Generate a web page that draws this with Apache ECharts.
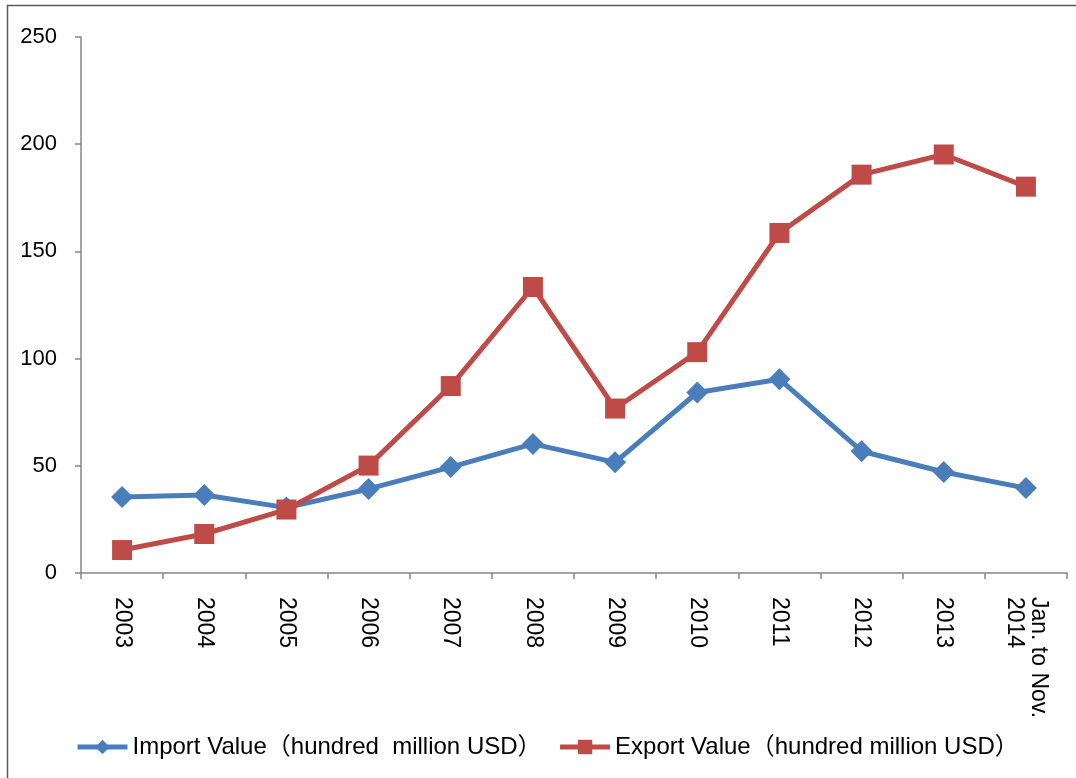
<!DOCTYPE html>
<html>
<head>
<meta charset="utf-8">
<script src="https://cdn.jsdelivr.net/npm/echarts@6/dist/echarts.min.js"></script>
<style>
html,body{margin:0;padding:0;background:#fff;}
#c{width:1076px;height:778px;}
</style>
</head>
<body>
<div id="c"></div>
<script>
var categories = ['2003','2004','2005','2006','2007','2008','2009','2010','2011','2012','2013','Jan. to Nov.\n2014'];
var importValues = [35.4, 36.4, 30.5, 39.2, 49.4, 60.2, 51.6, 84.2, 90.4, 56.8, 47.1, 39.6];
var exportValues = [10.7, 18.2, 29.6, 50.1, 87.2, 133.4, 76.7, 103, 158.6, 185.8, 195.2, 180.2];
var yTicks = {min: 0, max: 250, interval: 50};

var chart = echarts.init(document.getElementById('c'));
var font = '"Liberation Sans", Arial, "Noto Sans CJK SC", sans-serif';
chart.setOption({
  animation: false,
  backgroundColor: '#fff',
  graphic: [{
    type: 'rect',
    shape: {x: 7.5, y: 5.5, width: 1200, height: 900},
    style: {fill: 'none', stroke: '#595959', lineWidth: 1.5},
    silent: true
  }],
  grid: {left: 81, right: 9, top: 37, bottom: 205, containLabel: false},
  legend: {
    left: 75, top: 735, padding: 0,
    itemWidth: 50, itemHeight: 18, itemGap: 16,
    lineStyle: {width: 5},
    textStyle: {fontFamily: font, fontSize: 24, color: '#000'},
    data: ['Import Value（hundred  million USD）', 'Export Value（hundred million USD）']
  },
  xAxis: {
    type: 'category',
    data: categories,
    boundaryGap: true,
    axisLine: {lineStyle: {color: '#868686', width: 1.5}},
    axisTick: {show: true, length: 6, alignWithLabel: false, lineStyle: {color: '#868686', width: 1.5}},
    axisLabel: {rotate: -90, margin: 24, fontFamily: font, fontSize: 23, color: '#000', interval: 0, lineHeight: 24},
    splitLine: {show: false}
  },
  yAxis: {
    type: 'value',
    min: yTicks.min, max: yTicks.max, interval: yTicks.interval,
    axisLine: {show: true, lineStyle: {color: '#868686', width: 1.5}},
    axisTick: {show: true, length: 6, lineStyle: {color: '#868686', width: 1.5}},
    axisLabel: {margin: 24, fontFamily: font, fontSize: 22, color: '#000'},
    splitLine: {show: false}
  },
  series: [{
    name: 'Import Value（hundred  million USD）',
    type: 'line',
    data: importValues,
    symbol: 'diamond',
    symbolSize: 22,
    lineStyle: {color: '#4a7ebb', width: 5},
    itemStyle: {color: '#4a7ebb'},
    z: 2
  }, {
    name: 'Export Value（hundred million USD）',
    type: 'line',
    data: exportValues,
    symbol: 'rect',
    symbolSize: 20,
    lineStyle: {color: '#be4b48', width: 5},
    itemStyle: {color: '#be4b48'},
    z: 3
  }]
});
</script>
</body>
</html>
